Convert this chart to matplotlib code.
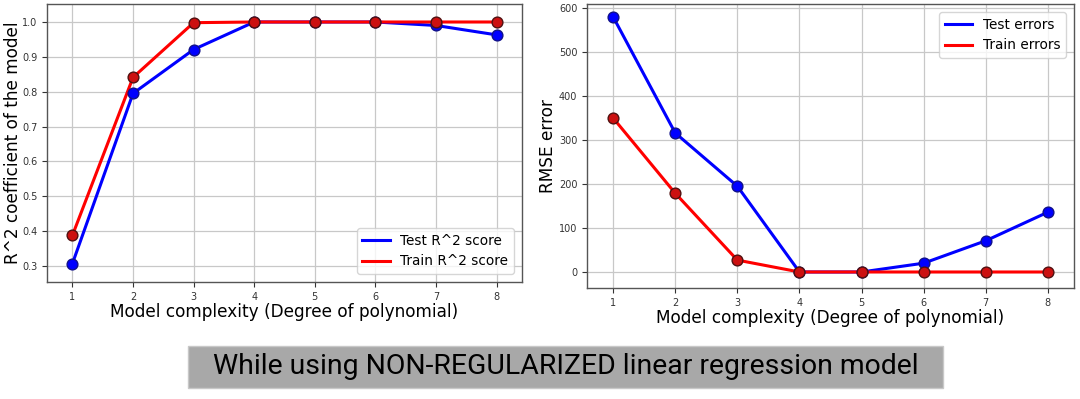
import matplotlib
matplotlib.use("Agg")
import matplotlib.pyplot as plt
from matplotlib.patches import Rectangle

degrees = [1, 2, 3, 4, 5, 6, 7, 8]
test_r2 = [0.307, 0.795, 0.921, 1.0, 1.0, 1.0, 0.990, 0.963]
train_r2 = [0.388, 0.841, 0.998, 1.0, 1.0, 1.0, 1.0, 1.0]
test_rmse = [580, 316, 195, 0, 0, 20, 71, 136]
train_rmse = [350, 179, 27, 0, 0, 0, 0, 0]

W, H = 1080, 399
fig = plt.figure(figsize=(W / 100, H / 100), dpi=100)

def px_axes(x0, x1, ytop, ybot):
    return fig.add_axes([x0 / W, (H - ybot) / H, (x1 - x0) / W, (ybot - ytop) / H])

ax1 = px_axes(47, 522, 4, 282)
ax2 = px_axes(587, 1074, 4, 288)

label_fs = 12.2
tick_fs = 7
leg_fs = 9.8

def style(ax):
    ax.grid(True, color="#c8c8c8", linewidth=0.9)
    ax.set_axisbelow(True)
    for s in ax.spines.values():
        s.set_color("#555555")
        s.set_linewidth(1.0)
    ax.tick_params(labelsize=tick_fs, colors="#333333", length=3.5, width=0.8)
    ax.set_xticks(degrees)
    ax.set_xlim(0.58, 8.42)

# Left chart
ax1.plot(degrees, test_r2, color="blue", lw=2.2, label="Test R^2 score")
ax1.plot(degrees, train_r2, color="red", lw=2.2, label="Train R^2 score")
ax1.scatter(degrees, test_r2, s=60, color="blue", edgecolor="#10108a", linewidth=1, zorder=3)
ax1.scatter(degrees, train_r2, s=60, color="#cc1010", edgecolor="#501010", linewidth=1, zorder=3)
style(ax1)
ax1.set_ylim(0.254, 1.0516)
ax1.set_yticks([0.3, 0.4, 0.5, 0.6, 0.7, 0.8, 0.9, 1.0])
ax1.set_xlabel("Model complexity (Degree of polynomial)", fontsize=label_fs, labelpad=1)
ax1.set_ylabel("R^2 coefficient of the model", fontsize=label_fs, labelpad=0)
ax1.legend(loc="lower right", fontsize=leg_fs, handlelength=2.0, borderaxespad=0.6)

# Right chart
ax2.plot(degrees, test_rmse, color="blue", lw=2.2, label="Test errors")
ax2.plot(degrees, train_rmse, color="red", lw=2.2, label="Train errors")
ax2.scatter(degrees, test_rmse, s=60, color="blue", edgecolor="#10108a", linewidth=1, zorder=3)
ax2.scatter(degrees, train_rmse, s=60, color="#cc1010", edgecolor="#501010", linewidth=1, zorder=3)
style(ax2)
ax2.set_ylim(-36.4, 609)
ax2.set_yticks([0, 100, 200, 300, 400, 500, 600])
ax2.set_xlabel("Model complexity (Degree of polynomial)", fontsize=label_fs, labelpad=1)
ax2.set_ylabel("RMSE error", fontsize=label_fs, labelpad=1)
ax2.legend(loc="upper right", fontsize=leg_fs, handlelength=2.0, borderaxespad=0.6)

# Banner
fig.patches.append(Rectangle((188 / W, (H - 388) / H), (943 - 188) / W, (388 - 346) / H,
                             transform=fig.transFigure, facecolor="#a8a8a8",
                             edgecolor="#c8c8c8", linewidth=1.0))
fig.text(566 / W, (H - 367) / H, "While using NON-REGULARIZED linear regression model",
         ha="center", va="center", fontsize=20.4, color="black",
         family=["Liberation Sans Narrow", "Roboto", "DejaVu Sans"])

fig.savefig("out.png", dpi=100)
